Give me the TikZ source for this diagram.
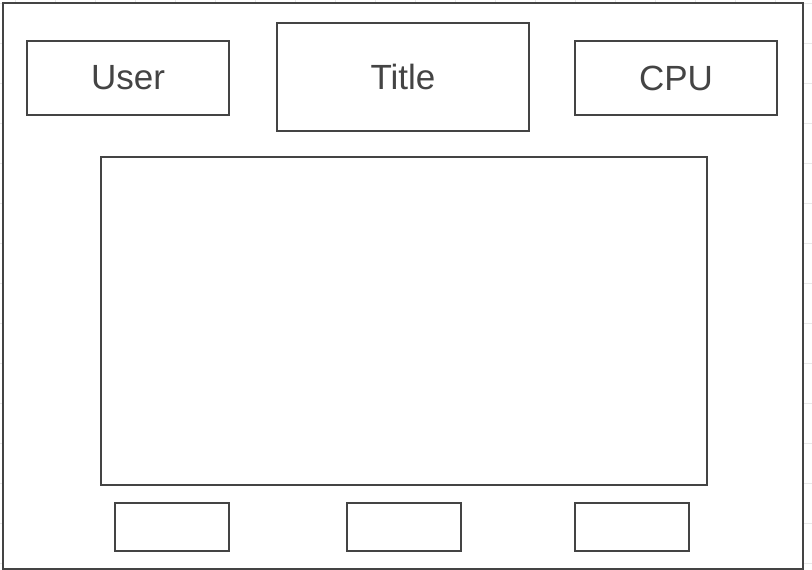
\documentclass[tikz,border=0pt]{standalone}
\usepackage{fontspec}
\setmainfont{Liberation Sans}
\usepackage{xcolor}
\definecolor{boxline}{HTML}{444444}
\definecolor{gridline}{HTML}{E8E8E8}
\colorlet{labeltext}{boxline}

\tikzset{
  panel/.style={draw=boxline, line width=2pt, fill=white, inner sep=0pt, outer sep=0pt,
    text=labeltext, font=\fontsize{35}{42}\selectfont},
}

\begin{document}
\begin{tikzpicture}[x=1pt,y=-1pt]% Mock-up:

  \useasboundingbox (0,0) rectangle (812,570);

%  Background grid
  \foreach \gx in {15,55,...,815} {
    \draw[gridline, line width=1pt] (\gx,0) -- (\gx,570);
  }
  \foreach \gy in {3,43,...,570} {
    \draw[gridline, line width=1pt] (0,\gy) -- (812,\gy);
  }

  \node[panel, minimum width=800pt, minimum height=566pt] (window) at (403,286) {};

  \node[panel, minimum width=202pt, minimum height=74pt] (user) at (128,78) {User};
  \node[panel, minimum width=252pt, minimum height=108pt] (title) at (403,77) {Title};
  \node[panel, minimum width=202pt, minimum height=74pt] (cpu) at (676,78) {CPU};

  \node[panel, minimum width=606pt, minimum height=328pt] (screen) at (404,321) {};

%  Buttons
  \node[panel, minimum width=114pt, minimum height=48pt] (btn_1) at (172,527) {};
  \node[panel, minimum width=114pt, minimum height=48pt] (btn_2) at (404,527) {};
  \node[panel, minimum width=114pt, minimum height=48pt] (btn_3) at (632,527) {};

\end{tikzpicture}
\end{document}
